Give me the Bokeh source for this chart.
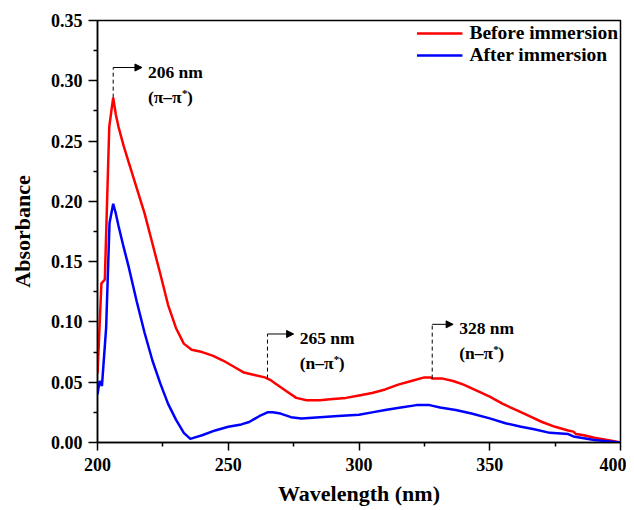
import numpy as np
from bokeh.plotting import figure
from bokeh.models import (ColumnDataSource, FixedTicker, PrintfTickFormatter,
                          Arrow, NormalHead, Legend, LegendItem)
from bokeh.core.properties import value
from bokeh.embed import file_html
from bokeh.resources import INLINE

# ---------------- data ----------------
wl_before = [200, 201.5, 202.8, 204.5, 206, 207, 208, 210, 212, 215, 218, 221, 224, 227,
             230, 233, 236, 240, 244, 248, 252, 256, 260, 264, 266, 268, 272, 276, 280,
             285, 290, 295, 300, 305, 310, 315, 320, 325, 327.5, 328, 332, 336, 340, 345,
             350, 355, 360, 365, 370, 375, 380, 382, 383, 386, 390, 395, 400]
abs_before = [0.057, 0.132, 0.135, 0.262, 0.286, 0.272, 0.262, 0.246, 0.232, 0.211, 0.190,
              0.165, 0.140, 0.114, 0.095, 0.082, 0.077, 0.075, 0.072, 0.068, 0.063, 0.058,
              0.056, 0.054, 0.052, 0.049, 0.043, 0.037, 0.035, 0.035, 0.036, 0.037, 0.039,
              0.041, 0.044, 0.048, 0.051, 0.054, 0.054, 0.053, 0.053, 0.051, 0.048, 0.043,
              0.038, 0.032, 0.027, 0.022, 0.017, 0.013, 0.010, 0.009, 0.007, 0.006, 0.004,
              0.002, 0.000]

wl_after = [200, 200.8, 201.7, 203.3, 204.6, 206, 207, 208, 210, 212, 215, 218, 221, 224,
            227, 230, 233, 235.5, 237, 240, 245, 250, 255, 258, 262, 265, 267, 270, 274,
            278, 285, 292, 300, 305, 310, 316, 322, 326, 327, 331, 337, 343, 350, 356, 362,
            367, 373, 380, 382, 390, 395, 400]
abs_after = [0.040, 0.051, 0.047, 0.095, 0.182, 0.198, 0.190, 0.180, 0.162, 0.145, 0.117,
             0.091, 0.068, 0.049, 0.032, 0.019, 0.008, 0.003, 0.004, 0.006, 0.010, 0.013,
             0.015, 0.017, 0.022, 0.025, 0.025, 0.024, 0.021, 0.020, 0.021, 0.022, 0.023,
             0.025, 0.027, 0.029, 0.031, 0.031, 0.031, 0.029, 0.027, 0.024, 0.020, 0.016,
             0.013, 0.011, 0.008, 0.007, 0.005, 0.002, 0.001, 0.000]

x_ticks = [200, 250, 300, 350, 400]
x_minor = [225, 275, 325, 375]
y_ticks = [0.00, 0.05, 0.10, 0.15, 0.20, 0.25, 0.30, 0.35]
y_minor = [0.025, 0.075, 0.125, 0.175, 0.225, 0.275, 0.325]

peak_wl = [206, 265, 328]
peak_top = [0.311, 0.090, 0.098]
arrow_end = [217, 275, 336]
peak_labels = ["206 nm", "265 nm", "328 nm"]
trans_labels = ["(\u03c0\u2013\u03c0", "(n\u2013\u03c0", "(n\u2013\u03c0"]

FONT = "Liberation Serif"

# ---------------- figure ----------------
p = figure(width=626, height=509, x_range=(200, 400), y_range=(0, 0.35),
           output_backend="svg", toolbar_location=None,
           min_border_left=97, min_border_right=6, min_border_top=20, min_border_bottom=67)
p.grid.visible = False
p.outline_line_color = "black"
p.outline_line_width = 1.5
p.background_fill_color = "white"

r_before = p.line(wl_before, abs_before, line_color="#ff0000", line_width=2.5)
r_after = p.line(wl_after, abs_after, line_color="#0000ff", line_width=2.5)

# annotations
base_vals = list(np.interp(peak_wl, wl_before, abs_before))
p.segment(x0=peak_wl, y0=base_vals, x1=peak_wl, y1=peak_top,
          line_color="black", line_width=1, line_dash="4 3")
for xw, yt, xe in zip(peak_wl, peak_top, arrow_end):
    p.add_layout(Arrow(x_start=xw, y_start=yt, x_end=xe, y_end=yt,
                       line_color="black", line_width=1,
                       end=NormalHead(size=7, fill_color="black", line_color="black")))

src = ColumnDataSource(dict(x=arrow_end, y=peak_top, t1=peak_labels, t2=trans_labels,
                            star=["*"] * 3, close=[")"] * 3))
common = dict(text_font=value(FONT), text_font_style="bold", text_color="black")
p.text(x="x", y="y", text="t1", source=src, x_offset=6, y_offset=4,
       text_baseline="middle", text_font_size="17.5px", **common)
p.text(x="x", y="y", text="t2", source=src, x_offset=6, y_offset=29,
       text_baseline="middle", text_font_size="17.5px", **common)
p.text(x="x", y="y", text="star", source=src, x_offset=40, y_offset=25,
       text_baseline="middle", text_font_size="11px", **common)
p.text(x="x", y="y", text="close", source=src, x_offset=45, y_offset=29,
       text_baseline="middle", text_font_size="17.5px", **common)

# axes
for ax in (p.xaxis[0], p.yaxis[0]):
    ax.axis_line_width = 1.5
    ax.major_tick_line_width = 1.5
    ax.minor_tick_line_width = 1.5
    ax.major_tick_in = 0
    ax.minor_tick_in = 0
    ax.major_label_text_font = FONT
    ax.major_label_text_font_style = "bold"
    ax.major_label_text_font_size = "18px"
    ax.major_label_text_color = "black"
    ax.axis_label_text_font = FONT
    ax.axis_label_text_font_style = "bold"
    ax.axis_label_text_font_size = "22px"
    ax.axis_label_text_color = "black"

p.xaxis.ticker = FixedTicker(ticks=x_ticks, minor_ticks=x_minor)
p.yaxis.ticker = FixedTicker(ticks=y_ticks, minor_ticks=y_minor)
p.xaxis.formatter = PrintfTickFormatter(format="%d")
p.yaxis.formatter = PrintfTickFormatter(format="%.2f")
p.xaxis.major_tick_out = 8
p.xaxis.minor_tick_out = 4
p.yaxis.major_tick_out = 9
p.yaxis.minor_tick_out = 4
p.xaxis.major_label_standoff = 7
p.yaxis.major_label_standoff = 6
p.xaxis.axis_label = "Wavelength (nm)"
p.yaxis.axis_label = "Absorbance"
p.xaxis.axis_label_standoff = 7
p.yaxis.axis_label_standoff = 13

# legend
legend = Legend(items=[LegendItem(label="Before immersion", renderers=[r_before]),
                       LegendItem(label="After immersion", renderers=[r_after])],
                location="top_right", border_line_alpha=0, background_fill_alpha=0,
                label_text_font=FONT, label_text_font_style="bold",
                label_text_color="black",
                label_text_font_size="19.5px", glyph_width=46, glyph_height=18,
                label_height=18, label_standoff=7, spacing=-3, padding=2, margin=0)
p.add_layout(legend)

open("out.html", "w").write(file_html(p, INLINE))
